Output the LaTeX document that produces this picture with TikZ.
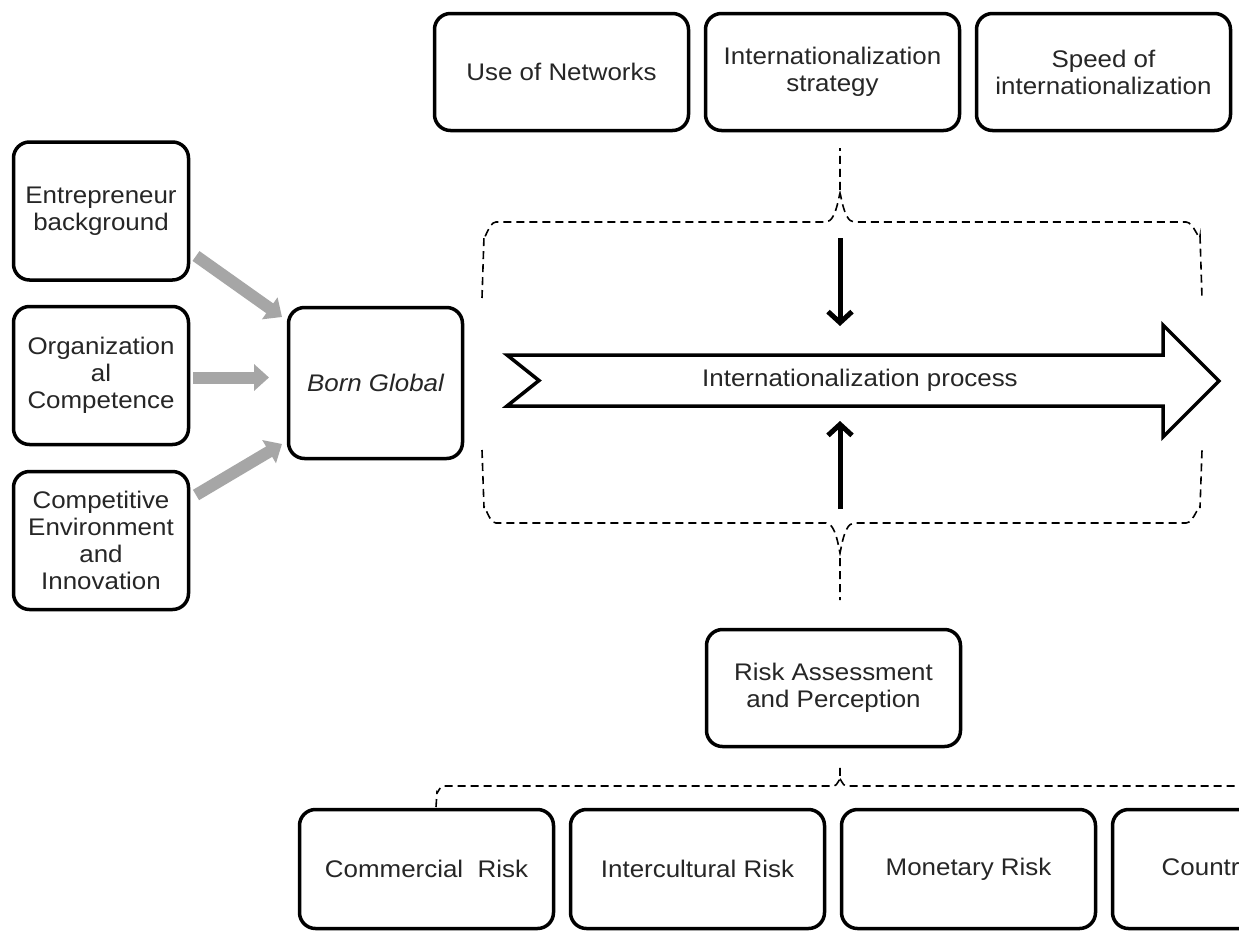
\documentclass[tikz,border=0pt]{standalone}
\usepackage{fontspec}
\setmainfont{Liberation Sans}[FakeStretch=1.08]
\usetikzlibrary{arrows.meta}
\begin{document}
\begin{tikzpicture}[x=1pt,y=-1pt,
  box/.style={draw, line width=3.5pt, rounded corners=16pt, align=center,
    fill=white, text=black!85, font=\fontsize{24}{27}\selectfont, inner sep=2pt},
  wide/.style={box, minimum width=254pt, minimum height=117pt},
  side/.style={box, minimum width=175pt, minimum height=138pt},
  dline/.style={densely dashed, dash pattern=on 8pt off 5pt, line width=1.6pt},
  grayarrow/.style={draw=black!35, line width=12pt, -{Triangle[length=15pt,width=26pt]}},
  blackarrow/.style={line width=5pt, -{Straight Barb[length=11pt,width=24pt,line width=5pt]}}
]
\useasboundingbox (0,0) rectangle (1239,932);
\clip (0,0) rectangle (1239,932);
\fill[white] (0,0) rectangle (1239,932);

% top boxes
\node[wide] (net) at (561.5,72) {Use of Networks};
\node[wide] (strat) at (832.5,72) {Internationalization\\strategy};
\node[wide] (speed) at (1103.5,72) {Speed of\\internationalization};

% left boxes
\node[side] (ent) at (101,211) {Entrepreneur\\background};
\node[side] (org) at (101,375.5) {Organization\\al\\Competence};
\node[side] (comp) at (101,540.5) {Competitive\\Environment\\and\\Innovation};
\node[box, minimum width=174pt, minimum height=151pt] (born) at (375.5,383) {\itshape Born Global};

% risk boxes
\node[wide] (risk) at (833.5,688) {Risk Assessment\\and Perception};
\node[wide, minimum height=119pt] (com) at (426.5,869) {Commercial\ \ Risk};
\node[wide, minimum height=119pt] (inter) at (697.5,869) {Intercultural Risk};
\node[wide, minimum height=119pt] (mon) at (968.5,869) {Monetary Risk};
\node[wide, minimum height=119pt] (ctry) at (1239.5,869) {Country\ \ Risk};

% gray arrows
\coordinate (g1a) at (196,256); \coordinate (g1b) at (282,317);
\coordinate (g2a) at (193,377.5); \coordinate (g2b) at (269,377.5);
\coordinate (g3a) at (196,495); \coordinate (g3b) at (282,444);
\draw[grayarrow] (g1a) -- (g1b);
\draw[grayarrow] (g2a) -- (g2b);
\draw[grayarrow] (g3a) -- (g3b);

% big process arrow
\draw[line width=3.5pt, fill=white, line join=miter]
  (507,355) -- (1163,355) -- (1163,325) -- (1219,381) -- (1163,437)
  -- (1163,406) -- (507,406) -- (539,380.5) -- cycle;
\node[font=\fontsize{24}{27}\selectfont, text=black!85] (proc) at (860,380) {Internationalization process};

% top dashed brace
\coordinate (ts) at (840,148);
\coordinate (tm) at (840,196);
\draw[dline] (482,298) -- (484,236) to[out=-90,in=180] (496,222) -- (826,222) to[out=0,in=90] (tm) -- (ts);
\draw[dline] (tm) to[out=90,in=180] (854,222) -- (1186,222) to[out=0,in=-90] (1200,236) -- (1202,298);

% bottom dashed brace
\coordinate (bs) at (840,600);
\coordinate (bm) at (840,550);
\draw[dline] (482,450) -- (484,508) to[out=90,in=180] (496,523) -- (826,523) to[out=0,in=-90] (bm) -- (bs);
\draw[dline] (bm) to[out=-90,in=180] (854,523) -- (1186,523) to[out=0,in=90] (1200,508) -- (1202,450);

% black arrows
\coordinate (da) at (840,238); \coordinate (db) at (840,326);
\coordinate (ua) at (840,509); \coordinate (ub) at (840,421);
\draw[blackarrow] (da) -- (db);
\draw[blackarrow] (ua) -- (ub);

% risk dashed brace
\coordinate (rs) at (840,767);
\coordinate (rm) at (840,780);
\draw[dline] (436,807) -- (437,792) to[out=-90,in=180] (443,786) -- (834,786) to[out=0,in=90] (rm) -- (rs);
\draw[dline] (rm) to[out=90,in=180] (846,786) -- (1245,786);
\end{tikzpicture}
\end{document}
